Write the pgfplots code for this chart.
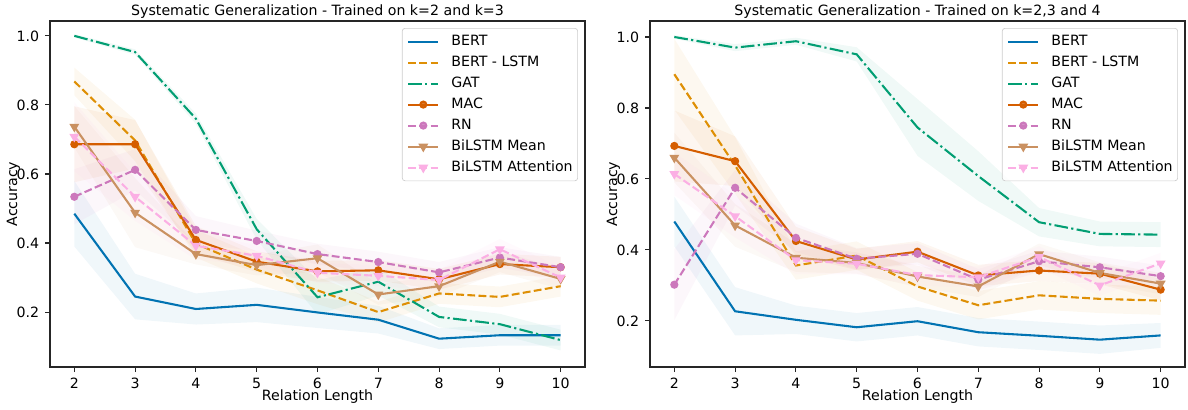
\documentclass[border=0pt]{standalone}
\usepackage{fontspec}
\setmainfont{DejaVu Sans}
\usepackage{pgfplots}
\usepackage{pgfplotstable}
\pgfplotsset{compat=1.18}
\usepgfplotslibrary{fillbetween}

\definecolor{cbert}{HTML}{0173B2}
\definecolor{clstm}{HTML}{DE8F05}
\definecolor{cgat}{HTML}{029E73}
\definecolor{cmac}{HTML}{D55E00}
\definecolor{crn}{HTML}{CC78BC}
\definecolor{cmean}{HTML}{CA9161}
\definecolor{catt}{HTML}{FBAFE4}

\newcommand{\fs}{\fontsize{8.5}{10.2}\selectfont}

% trained on k=2 and k=3 (value and band half-width per model)
\pgfplotstableread{
x  bert  bertE lstm  lstmE gat   gatE  mac   macE rn    rnE  mean  meanE att   attE
2  0.485 0.095 0.868 0.04  1.000 0.005 0.686 0.11 0.534 0.08 0.737 0.06  0.708 0.10
3  0.245 0.066 0.697 0.06  0.953 0.008 0.686 0.07 0.612 0.06 0.488 0.10  0.534 0.07
4  0.209 0.045 0.398 0.04  0.760 0.015 0.409 0.04 0.438 0.04 0.368 0.03  0.392 0.04
5  0.221 0.050 0.323 0.04  0.440 0.030 0.346 0.03 0.406 0.03 0.336 0.03  0.363 0.03
6  0.199 0.045 0.263 0.04  0.243 0.050 0.318 0.03 0.368 0.03 0.356 0.04  0.314 0.03
7  0.178 0.040 0.200 0.03  0.288 0.040 0.321 0.03 0.345 0.03 0.251 0.03  0.305 0.03
8  0.123 0.030 0.254 0.03  0.186 0.030 0.295 0.03 0.315 0.03 0.275 0.03  0.293 0.03
9  0.133 0.030 0.244 0.03  0.165 0.030 0.339 0.03 0.358 0.03 0.346 0.03  0.382 0.03
10 0.133 0.030 0.275 0.03  0.119 0.030 0.330 0.03 0.330 0.03 0.296 0.03  0.300 0.03
}\kone

% trained on k=2,3 and 4
\pgfplotstableread{
x  bert  bertE lstm  lstmE gat   gatE  mac   macE rn    rnE  mean  meanE att   attE
2  0.480 0.070 0.895 0.10  1.000 0.005 0.693 0.10 0.302 0.10 0.660 0.07  0.614 0.06
3  0.227 0.068 0.638 0.08  0.970 0.010 0.650 0.07 0.575 0.05 0.469 0.06  0.495 0.06
4  0.203 0.040 0.356 0.04  0.988 0.010 0.425 0.04 0.434 0.04 0.378 0.04  0.371 0.04
5  0.182 0.040 0.384 0.04  0.951 0.020 0.373 0.03 0.375 0.03 0.363 0.03  0.361 0.03
6  0.199 0.040 0.297 0.04  0.745 0.080 0.395 0.03 0.389 0.03 0.325 0.03  0.329 0.03
7  0.168 0.040 0.244 0.04  0.608 0.070 0.328 0.03 0.316 0.03 0.297 0.03  0.323 0.03
8  0.158 0.040 0.272 0.04  0.478 0.040 0.342 0.03 0.368 0.03 0.388 0.03  0.380 0.03
9  0.147 0.040 0.262 0.04  0.445 0.035 0.333 0.03 0.351 0.03 0.335 0.03  0.300 0.03
10 0.159 0.035 0.257 0.04  0.443 0.035 0.288 0.03 0.326 0.03 0.305 0.03  0.362 0.03
}\ktwo

% shaded band: table, column, colour, prefix
\newcommand{\band}[4]{%
  \addplot[draw=none, name path=#4#2up, forget plot] table[x=x, y expr=\thisrow{#2}+\thisrow{#2E}] {#1};
  \addplot[draw=none, name path=#4#2lo, forget plot] table[x=x, y expr=\thisrow{#2}-\thisrow{#2E}] {#1};
  \addplot[fill=#3, fill opacity=0.06, draw=none, forget plot] fill between[of=#4#2up and #4#2lo];
}

\newcommand{\allplots}[2]{%
  \band{#1}{bert}{cbert}{#2}
  \band{#1}{lstm}{clstm}{#2}
  \band{#1}{gat}{cgat}{#2}
  \band{#1}{mac}{cmac}{#2}
  \band{#1}{rn}{crn}{#2}
  \band{#1}{mean}{cmean}{#2}
  \band{#1}{att}{catt}{#2}
  \addplot[cbert, line width=1.25pt] table[x=x, y=bert] {#1};
  \addlegendentry{BERT}
  \addplot[clstm, line width=1.25pt, dash pattern=on 4.7pt off 2pt] table[x=x, y=lstm] {#1};
  \addlegendentry{BERT - LSTM}
  \addplot[cgat, line width=1.25pt, dash pattern=on 8.2pt off 2pt on 1.3pt off 2pt] table[x=x, y=gat] {#1};
  \addlegendentry{GAT}
  \addplot[cmac, line width=1.25pt, mark=*, mark size=1.8pt, mark options={solid}] table[x=x, y=mac] {#1};
  \addlegendentry{MAC}
  \addplot[crn, line width=1.25pt, dash pattern=on 4.7pt off 2pt, mark=*, mark size=1.8pt, mark options={solid}] table[x=x, y=rn] {#1};
  \addlegendentry{RN}
  \addplot[cmean, line width=1.25pt, mark=triangle*, mark size=2.2pt, mark options={solid, rotate=180}] table[x=x, y=mean] {#1};
  \addlegendentry{BiLSTM Mean}
  \addplot[catt, line width=1.25pt, dash pattern=on 4.7pt off 2pt, mark=triangle*, mark size=2.2pt, mark options={solid, rotate=180}] table[x=x, y=att] {#1};
  \addlegendentry{BiLSTM Attention}
}

\pgfplotsset{
  panel/.style={
    scale only axis,
    width=321pt, height=207.6pt,
    xmin=1.6, xmax=10.4,
    xtick={2,...,10},
    ytick={0.2,0.4,0.6,0.8,1.0},
    yticklabel style={/pgf/number format/.cd, fixed, fixed zerofill, precision=1},
    /pgf/number format/assume math mode=true,
    tick align=outside,
    xtick pos=left, ytick pos=left,
    major tick length=3pt,
    tick style={black!85, line width=0.68pt},
    axis line style={black!85, line width=0.68pt},
    tick label style={font=\fs, text=black},
    label style={font=\fs},
    xlabel={Relation Length},
    ylabel={Accuracy},
    xlabel style={at={(axis description cs:0.5,0)}, anchor=center, yshift=-18pt},
    ylabel style={at={(axis description cs:0,0.5)}, anchor=center, yshift=22pt},
    title style={font=\fs, at={(0.5,1)}, anchor=south, inner sep=0pt, yshift=-4.4pt},
    legend cell align=left,
    legend image code/.code={\draw[mark repeat=2, mark phase=2, ##1] plot coordinates {(0pt,0pt) (9pt,0pt) (18pt,0pt)};},
    legend style={
      font=\fs,
      at={(1,1)}, anchor=north east, xshift=-4.2pt, yshift=-4.2pt,
      draw=black!20, fill=white, fill opacity=0.8, text opacity=1,
      rounded corners=1.7pt,
      inner xsep=3pt, inner ysep=3.8pt,
      row sep=4.3pt,
      nodes={inner sep=0pt, text height=6.5pt, text depth=1.8pt},
      /tikz/every odd column/.append style={column sep=7.2pt},
    },
  },
}

\begin{document}
\begin{tikzpicture}
\begin{axis}[panel, at={(30pt,24pt)}, anchor=south west,
    ymin=0.041, ymax=1.043,
    title={Systematic Generalization - Trained on k=2 and k=3}]
  \allplots{\kone}{A}
\end{axis}
\begin{axis}[panel, at={(390pt,24pt)}, anchor=south west,
    ymin=0.070, ymax=1.045,
    title={Systematic Generalization - Trained on k=2,3 and 4}]
  \allplots{\ktwo}{B}
\end{axis}
\path (0,0) rectangle (712.8pt,244.2pt);
\end{tikzpicture}
\end{document}
